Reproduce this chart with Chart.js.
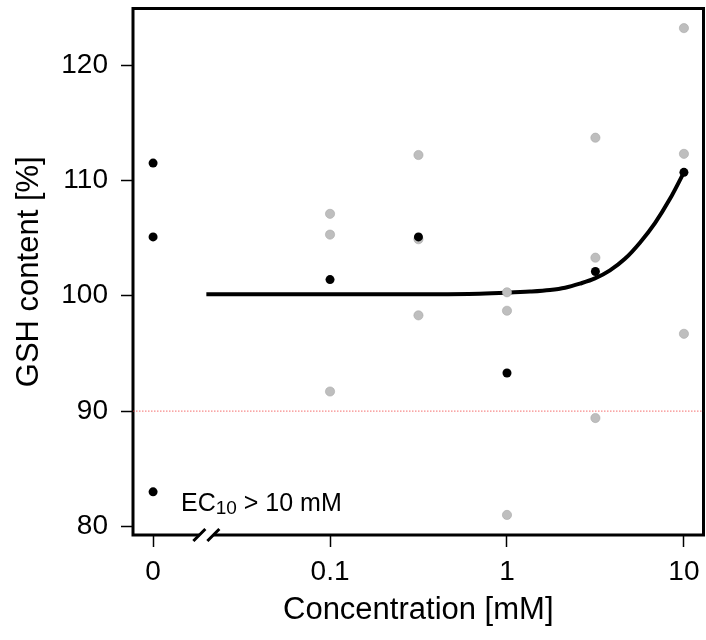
<!DOCTYPE html>
<html>
<head>
<meta charset="utf-8">
<script src="https://cdn.jsdelivr.net/npm/chart.js@4"></script>
<style>
  html, body { margin: 0; padding: 0; background: #fff; }
</style>
</head>
<body>
<canvas id="canvas-1" width="706" height="640"></canvas>
<script>
/* global Chart */

// "0" has no place on a log axis, so the control sits at zeroAt and the axis is broken at breakAt
const zeroAt = 0.01;
const breakAt = 0.02;
const xMin = 0.0077;
const xMax = 12.9;
const yMin = 79.26;
const yMax = 124.9;
const threshold = 90;

// concentrations [mM] of the treated groups
const doses = [0.1, 0.316, 1, 3.16, 10];
// control (0 mM) values
const controlValues = [111.5, 105.1, 83.0];
// single replicates per concentration (grey)
const rep1 = [107.1, 112.2, 100.3, 113.7, 123.2];
const rep2 = [105.3, 104.9, 98.7, 103.3, 112.3];
const rep3 = [91.7, 98.3, 81.0, 89.4, 96.7];
// means per concentration (black)
const meanValues = [101.4, 105.1, 93.3, 102.1, 110.7];
// fitted curve
const curveX = [0.02, 0.1, 0.316, 0.7, 1, 1.35, 1.75, 2.13, 2.58, 3.14, 3.82, 4.64, 5.64, 6.86, 8.34, 10];
const curveY = [100.12, 100.12, 100.13, 100.18, 100.26, 100.36, 100.5, 100.7, 101.05, 101.5, 102.2, 103.2, 104.6, 106.3, 108.4, 110.7];

const xTicks = [zeroAt, 0.1, 1, 10];
const xTickLabels = ['0', '0.1', '1', '10'];
const yTicks = [80, 90, 100, 110, 120];

const font = "'Liberation Sans', Arial, sans-serif";

const pts = (xs, ys) => xs.map((x, i) => ({ x: x, y: ys[i] }));

const greyPoints = [].concat(pts(doses, rep1), pts(doses, rep2), pts(doses, rep3));
const blackPoints = [].concat(controlValues.map(v => ({ x: zeroAt, y: v })), pts(doses, meanValues));

// no extra room for half tick labels, the plot box is placed by hand
const noPad = s => { s.paddingTop = 0; s.paddingBottom = 0; s.paddingLeft = 0; s.paddingRight = 0; };

// box with the broken x axis and the EC10 note
const frame = {
  id: 'frame',
  beforeDatasetsDraw(chart) {
    const { ctx, chartArea: a, scales: { x } } = chart;
    const bx = x.getPixelForValue(breakAt);
    ctx.save();
    ctx.strokeStyle = '#000';
    ctx.lineWidth = 3;
    ctx.beginPath();
    ctx.moveTo(bx + 7, a.bottom);
    ctx.lineTo(a.right, a.bottom);
    ctx.lineTo(a.right, a.top);
    ctx.lineTo(a.left, a.top);
    ctx.lineTo(a.left, a.bottom);
    ctx.lineTo(bx - 7, a.bottom);
    ctx.stroke();
    ctx.beginPath();
    [-7, 7].forEach(d => {
      ctx.moveTo(bx + d - 6, a.bottom + 6);
      ctx.lineTo(bx + d + 6, a.bottom - 6);
    });
    ctx.stroke();

    // EC10 > 10 mM
    let tx = a.left + 48;
    const ty = a.bottom - 24.5;
    ctx.fillStyle = '#000';
    ctx.textBaseline = 'alphabetic';
    ctx.textAlign = 'left';
    ctx.font = '25px ' + font;
    ctx.fillText('EC', tx, ty);
    tx += ctx.measureText('EC').width;
    ctx.font = '19px ' + font;
    ctx.fillText('10', tx, ty + 3);
    tx += ctx.measureText('10').width;
    ctx.font = '25px ' + font;
    ctx.fillText(' > 10 mM', tx, ty);
    ctx.restore();
  }
};

// eslint-disable-next-line no-unused-vars
const scatterChart = new Chart(document.getElementById('canvas-1'), {
  type: 'scatter',
  data: {
    datasets: [{
      label: 'mean',
      data: blackPoints,
      backgroundColor: '#000',
      borderColor: '#000',
      borderWidth: 0,
      pointRadius: 4.5,
      order: 0
    }, {
      label: 'replicates',
      data: greyPoints,
      backgroundColor: '#bebebe',
      borderColor: '#a8a8a8',
      borderWidth: 0.6,
      pointRadius: 4.6,
      order: 1
    }, {
      type: 'line',
      label: 'fit',
      data: pts(curveX, curveY),
      borderColor: '#000',
      borderWidth: 4,
      pointRadius: 0,
      cubicInterpolationMode: 'monotone',
      fill: false,
      order: 2
    }, {
      type: 'line',
      label: 'EC10 level',
      data: [{ x: xMin, y: threshold }, { x: xMax, y: threshold }],
      borderColor: 'rgba(240, 60, 60, 0.75)',
      borderWidth: 1,
      borderDash: [1.5, 1.5],
      pointRadius: 0,
      fill: false,
      order: 3
    }]
  },
  options: {
    responsive: false,
    animation: false,
    layout: { autoPadding: false, padding: { top: 8.5, right: 2.5, left: 0, bottom: 0 } },
    plugins: {
      legend: { display: false },
      tooltip: { enabled: false }
    },
    scales: {
      x: {
        type: 'logarithmic',
        position: 'bottom',
        min: xMin,
        max: xMax,
        afterBuildTicks: s => { s.ticks = xTicks.map(v => ({ value: v })); },
        afterFit: s => { s.height = 105; noPad(s); },
        border: { display: false },
        grid: { drawOnChartArea: false, drawTicks: true, tickLength: 12, tickWidth: 1.5, tickColor: '#000' },
        ticks: {
          autoSkip: false,
          maxRotation: 0,
          padding: 8,
          color: '#000',
          font: { family: font, size: 28 },
          callback: (v, i) => xTickLabels[i]
        },
        title: {
          display: true,
          text: 'Concentration [mM]',
          color: '#000',
          font: { family: font, size: 31 },
          padding: { top: 0, bottom: 11 }
        }
      },
      y: {
        type: 'linear',
        min: yMin,
        max: yMax,
        afterBuildTicks: s => { s.ticks = yTicks.map(v => ({ value: v })); },
        afterFit: s => { s.width = 133; noPad(s); },
        border: { display: false },
        grid: { drawOnChartArea: false, drawTicks: true, tickLength: 12, tickWidth: 1.5, tickColor: '#000' },
        ticks: {
          padding: 13,
          color: '#000',
          font: { family: font, size: 28 }
        },
        title: {
          display: true,
          text: 'GSH content [%]',
          color: '#000',
          font: { family: font, size: 31 },
          padding: { top: 11, bottom: 0 }
        }
      }
    }
  },
  plugins: [frame]
});
</script>
</body>
</html>
